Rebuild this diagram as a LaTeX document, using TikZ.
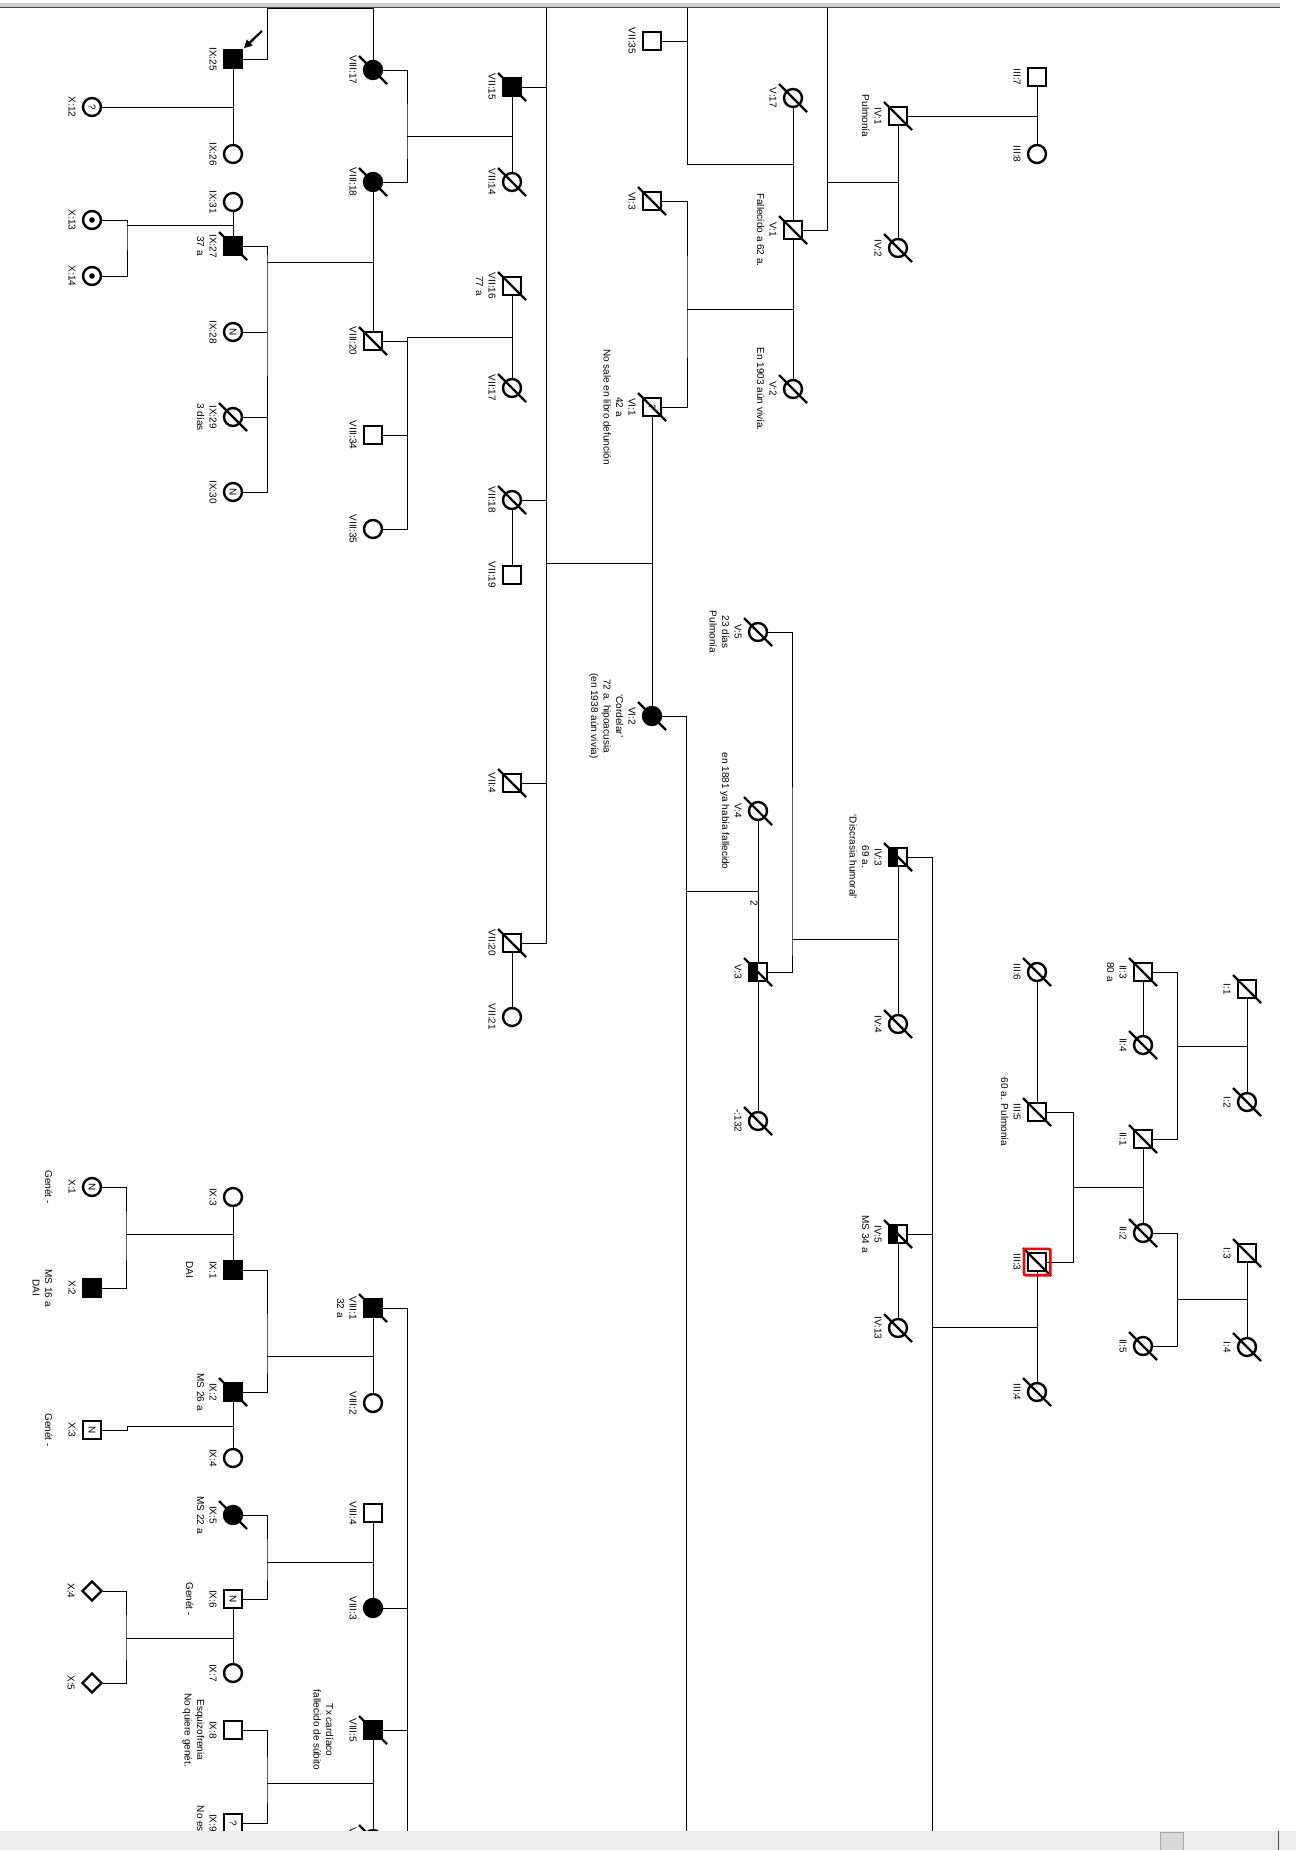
\documentclass[tikz,border=0pt]{standalone}
\usepackage{fontspec}
\setmainfont{Liberation Sans}
\usepackage{graphicx}
\usetikzlibrary{arrows.meta, calc, backgrounds, fit, shapes.geometric}

\newcommand{\tagfont}{\fontsize{10}{12.5}\selectfont}

\begin{document}
\begin{tikzpicture}[
    x=1pt, y=-1pt,
    label distance=0pt,
    male/.style={draw, line width=2.4pt, minimum size=18pt, inner sep=0pt, fill=white, font=\tagfont},
    female/.style={male, circle},
    sexunk/.style={male, diamond, minimum size=20pt},
    affected/.style={fill=black},
    carrier/.style={path picture={\fill[black] (path picture bounding box.center) circle (2.8pt);}},
    halfaff/.style={path picture={\fill[black] (path picture bounding box.south west) rectangle (path picture bounding box.north);}},
    tag/.style={xshift=-6pt, rotate=-90, anchor=north, font=\tagfont, align=center, inner sep=0pt},
    rel/.style={line width=1.2pt},
    dslash/.style={line width=2.4pt},
    probbox/.style={draw=red, line width=2.6pt, rounded corners=2pt, inner sep=3pt},
    probarrow/.style={line width=2.2pt, -{Triangle[length=8pt, width=8pt]}, shorten >=1pt}
]

\useasboundingbox (0,0) rectangle (1296,1850);

% --- Generation I ---
\node[male, label={[tag]west:{I:1}}] (i1) at (1247,989) {};
\node[female, label={[tag]west:{I:2}}] (i2) at (1247,1102) {};
\node[male, label={[tag]west:{I:3}}] (i3) at (1247,1253) {};
\node[female, label={[tag]west:{I:4}}] (i4) at (1247,1347) {};

% --- Generation II ---
\node[male, label={[tag]west:{II:3\\80 a}}] (ii3) at (1143,972) {};
\node[female, label={[tag]west:{II:4}}] (ii4) at (1143,1045) {};
\node[male, label={[tag]west:{II:1}}] (ii1) at (1143,1139) {};
\node[female, label={[tag]west:{II:2}}] (ii2) at (1143,1233) {};
\node[female, label={[tag]west:{II:5}}] (ii5) at (1143,1346) {};

% --- Generation III ---
\node[male, label={[tag]west:{III:7}}] (iii7) at (1037,77) {};
\node[female, label={[tag]west:{III:8}}] (iii8) at (1037,154) {};
\node[female, label={[tag]west:{III:6}}] (iii6) at (1037,972) {};
\node[male, label={[tag]west:{III:5\\60 a. Pulmonía}}] (iii5) at (1037,1112) {};
\node[male, label={[tag]west:{III:3}}] (iii3) at (1037,1262) {};
\node[female, label={[tag]west:{III:4}}] (iii4) at (1037,1392) {};

% --- Generation IV ---
\node[male, label={[tag]west:{IV:1\\Pulmonía}}] (iv1) at (898,116) {};
\node[female, label={[tag]west:{IV:2}}] (iv2) at (898,248) {};
\node[male, halfaff, label={[tag]west:{IV:3\\69 a.\\`Discrasia humoral'}}] (iv3) at (898,857) {};
\node[female, label={[tag]west:{IV:4}}] (iv4) at (898,1024) {};
\node[male, halfaff, label={[tag]west:{IV:5\\MS 34 a}}] (iv5) at (898,1234) {};
\node[female, label={[tag]west:{IV:13}}] (iv13) at (898,1328) {};

% --- Generation V ---
\node[female, label={[tag]west:{V:17}}] (v17) at (793,98) {};
\node[male, label={[tag]west:{V:1\\Fallecido a 62 a.}}] (v1) at (793,230) {};
\node[female, label={[tag]west:{V:2\\En 1903 aún vivía.}}] (v2) at (793,389) {};
\node[female, label={[tag]west:{V:5\\23 días\\Pulmonía}}] (v5) at (758,632) {};
\node[female, label={[tag]west:{V:4\\en 1881 ya había fallecido}}] (v4) at (758,811) {};
\node[male, halfaff, label={[tag]west:{V:3}}] (v3) at (758,972) {};
\node[female, label={[tag]west:{-:132}}] (v132) at (758,1121) {};

% --- Generation VI ---
\node[male, label={[tag]west:{VII:35}}] (vii35) at (652,41) {};
\node[male, label={[tag]west:{VI:3}}] (vi3) at (652,201) {};
\node[male, label={[tag]west:{VI:1\\42 a\\No sale en libro defunción}}] (vi1) at (652,407) {\rotatebox{-90}{?}};
\node[female, affected, label={[tag]west:{VI:2\\`Cordelar'\\72 a. hipoacusia\\(en 1938 aún vivía)}}] (vi2) at (652,716) {};

% --- Generation VII ---
\node[male, affected, label={[tag]west:{VII:15}}] (vii15) at (512,87) {};
\node[female, label={[tag]west:{VII:14}}] (vii14) at (512,182) {};
\node[male, label={[tag]west:{VII:16\\77 a}}] (vii16) at (512,286) {};
\node[female, label={[tag]west:{VII:17}}] (vii17) at (512,388) {};
\node[female, label={[tag]west:{VII:18}}] (vii18) at (512,500) {};
\node[male, label={[tag]west:{VII:19}}] (vii19) at (512,575) {};
\node[male, label={[tag]west:{VII:4}}] (vii4) at (512,783) {};
\node[male, label={[tag]west:{VII:20}}] (vii20) at (512,943) {};
\node[female, label={[tag]west:{VII:21}}] (vii21) at (512,1017) {};

% --- Generation VIII ---
\node[female, affected, label={[tag]west:{VIII:17}}] (viii17) at (373,70) {};
\node[female, affected, label={[tag]west:{VIII:18}}] (viii18) at (373,182) {};
\node[male, label={[tag]west:{VIII:20}}] (viii20) at (373,341) {};
\node[male, label={[tag]west:{VIII:34}}] (viii34) at (373,435) {};
\node[female, label={[tag]west:{VIII:35}}] (viii35) at (373,529) {};
\node[male, affected, label={[tag]west:{VIII:1\\32 a}}] (viii1) at (373,1308) {};
\node[female, label={[tag]west:{VIII:2}}] (viii2) at (373,1403) {};
\node[male, label={[tag]west:{VIII:4}}] (viii4) at (373,1513) {};
\node[female, affected, label={[tag]west:{VIII:3}}] (viii3) at (373,1608) {};
\node[male, affected, label={[tag]west:{VIII:5\\[11pt]Tx cardíaco\\fallecido de súbito}}] (viii5) at (373,1730) {};
\node[female, label={[tag]west:{VIII:6}}] (viii6) at (373,1839) {};

% --- Generation IX ---
\node[male, affected, label={[tag]west:{IX:25}}] (ix25) at (233,59) {};
\node[female, label={[tag]west:{IX:26}}] (ix26) at (233,154) {};
\node[female, label={[tag]west:{IX:31}}] (ix31) at (233,202) {};
\node[male, affected, label={[tag]west:{IX:27\\37 a}}] (ix27) at (233,246) {};
\node[female, label={[tag]west:{IX:28}}] (ix28) at (233,332) {\rotatebox{-90}{N}};
\node[female, label={[tag]west:{IX:29\\3 días}}] (ix29) at (233,417) {};
\node[female, label={[tag]west:{IX:30}}] (ix30) at (233,492) {\rotatebox{-90}{N}};
\node[female, label={[tag]west:{IX:3}}] (ix3) at (233,1197) {};
\node[male, affected, label={[tag]west:{IX:1\\[11pt]DAI}}] (ix1) at (233,1270) {};
\node[male, affected, label={[tag]west:{IX:2\\MS 26 a}}] (ix2) at (233,1392) {};
\node[female, label={[tag]west:{IX:4}}] (ix4) at (233,1458) {};
\node[female, affected, label={[tag]west:{IX:5\\MS 22 a}}] (ix5) at (233,1515) {};
\node[male, label={[tag]west:{IX:6\\[11pt]Genét -}}] (ix6) at (233,1599) {\rotatebox{-90}{N}};
\node[female, label={[tag]west:{IX:7}}] (ix7) at (233,1673) {};
\node[male, label={[tag]west:{IX:8\\Esquizofrenia\\No quiere genét.}}] (ix8) at (233,1730) {};
\node[male, label={[tag]west:{IX:9\\No está}}] (ix9) at (233,1823) {\rotatebox{-90}{?}};

% --- Generation X ---
\node[female, label={[tag]west:{X:12}}] (x12) at (92,107) {\rotatebox{-90}{?}};
\node[female, carrier, label={[tag]west:{X:13}}] (x13) at (92,220) {};
\node[female, carrier, label={[tag]west:{X:14}}] (x14) at (92,276) {};
\node[female, label={[tag]west:{X:1\\[11pt]Genét -}}] (x1) at (92,1187) {\rotatebox{-90}{N}};
\node[male, affected, label={[tag]west:{X:2\\[11pt]MS 16 a\\DAI}}] (x2) at (92,1288) {};
\node[male, label={[tag]west:{X:3\\[11pt]Genét -}}] (x3) at (92,1430) {\rotatebox{-90}{N}};
\node[sexunk, label={[tag]west:{X:4}}] (x4) at (92,1591) {};
\node[sexunk, label={[tag]west:{X:5}}] (x5) at (92,1683) {};

% --- Relationship lines ---
\begin{scope}[on background layer, rel]
    \fill[white] (0,0) rectangle (1296,1850);

    % IX:25 up to VIII:17
    \coordinate (top1) at (267,8);
    \coordinate (top2) at (373,8);
    \draw (ix25) -| (top1) -- (top2) -- (viii17);
    \draw (ix25) -- (ix26);
    \draw (x12) -- (x12 -| ix25);

    % IX:31 x IX:27
    \draw (ix31) -- (ix27);
    \coordinate (sib1) at (127,225);
    \draw (x13) -| (sib1) |- (x14);
    \draw (sib1) -- (sib1 -| ix27);

    % VIII:18 x VIII:20
    \draw (viii18) -- (viii20);
    \coordinate (sib2) at (267,262);
    \draw (ix27) -| (sib2) |- (ix30);
    \draw (ix28) -- (ix28 -| sib2);
    \draw (ix29) -- (ix29 -| sib2);
    \draw (sib2) -- (sib2 -| viii18);

    % VII:15 x VII:14
    \draw (vii15) -- (vii14);
    \coordinate (sib3) at (407,136);
    \draw (viii17) -| (sib3) |- (viii18);
    \draw (sib3) -- (sib3 -| vii15);

    % VII:16 x VII:17
    \draw (vii16) -- (vii17);
    \coordinate (sib4) at (407,337);
    \draw (sib4) -- (sib4 -| vii16);
    \draw (sib4) |- (viii35);
    \draw (viii20) -- (viii20 -| sib4);
    \draw (viii34) -- (viii34 -| sib4);

    % VI:1 x VI:2
    \coordinate (sib5) at (546,8);
    \coordinate (desc5) at (546,563);
    \draw (sib5) |- (vii20);
    \draw (vii15) -- (vii15 -| sib5);
    \draw (vii18) -- (vii18 -| sib5);
    \draw (vii4) -- (vii4 -| sib5);
    \draw (desc5) -- (desc5 -| vi1);
    \draw (vi1) -- (vi2);
    \draw (vii18) -- (vii19);
    \draw (vii20) -- (vii21);

    % V:17 x V:1 x V:2
    \draw (v17) -- (v2);
    \coordinate (sib6) at (687,8);
    \coordinate (desc6) at (687,164);
    \draw (sib6) -- (desc6) -- (desc6 -| v1);
    \draw (vii35) -- (vii35 -| sib6);
    \coordinate (sib7) at (687,309);
    \draw (vi3) -| (sib7) |- (vi1);
    \draw (sib7) -- (sib7 -| v1);

    % IV:1 x IV:2, III:7 x III:8
    \draw (iv1) -- (iv2);
    \coordinate (sib8) at (827,8);
    \coordinate (desc8) at (827,182);
    \draw (v1) -| (sib8);
    \draw (desc8) -- (desc8 -| iv1);
    \draw (iii7) -- (iii8);
    \draw (iv1) -- (iv1 -| iii7);

    % V:4 x V:3
    \draw (v4) -- (v132);
    \coordinate (sib9) at (686,1832);
    \coordinate (desc9) at (686,891);
    \draw (vi2) -| (sib9);
    \draw (desc9) -- (desc9 -| v4);

    % IV:3 x IV:4
    \draw (iv3) -- (iv4);
    \coordinate (sib10) at (792,939);
    \draw (v5) -| (sib10) |- (v3);
    \draw (sib10) -- (sib10 -| iv3);

    % III:3 x III:4
    \coordinate (sib11) at (932,1832);
    \coordinate (desc11) at (932,1327);
    \draw (iv3) -| (sib11);
    \draw (iv5) -- (iv5 -| sib11);
    \draw (desc11) -- (desc11 -| iii3);
    \draw (iv5) -- (iv13);
    \draw (iii3) -- (iii4);

    % II:1 x II:2
    \draw (iii6) -- (iii5);
    \coordinate (sib12) at (1073,1187);
    \draw (iii5) -| (sib12) |- (iii3);
    \draw (sib12) -- (sib12 -| ii1);
    \draw (ii1) -- (ii2);

    % I:1 x I:2
    \draw (ii3) -- (ii4);
    \coordinate (sib13) at (1177,1046);
    \draw (ii3) -| (sib13) |- (ii1);
    \draw (sib13) -- (sib13 -| i1);
    \draw (i1) -- (i2);

    % I:3 x I:4
    \coordinate (sib14) at (1177,1299);
    \draw (ii2) -| (sib14) |- (ii5);
    \draw (sib14) -- (sib14 -| i3);
    \draw (i3) -- (i4);

    % IX:3 x IX:1
    \draw (ix3) -- (ix1);
    \coordinate (sib15) at (126,1234);
    \draw (x1) -| (sib15) |- (x2);
    \draw (sib15) -- (sib15 -| ix1);

    % VIII:1 x VIII:2
    \draw (viii1) -- (viii2);
    \coordinate (sib16) at (267,1356);
    \draw (ix1) -| (sib16) |- (ix2);
    \draw (sib16) -- (sib16 -| viii1);
    \coordinate (sib17) at (407,1832);
    \draw (viii1) -| (sib17);
    \draw (viii3) -- (viii3 -| sib17);
    \draw (viii5) -- (viii5 -| sib17);

    % IX:2 x IX:4
    \draw (ix2) -- (ix4);
    \coordinate (desc18) at (127,1426);
    \draw (desc18 -| ix2) -- (desc18) |- (x3);

    % VIII:4 x VIII:3
    \draw (viii4) -- (viii3);
    \coordinate (sib19) at (267,1562);
    \draw (ix5) -| (sib19) |- (ix6);
    \draw (sib19) -- (sib19 -| viii4);

    % IX:6 x IX:7
    \draw (ix6) -- (ix7);
    \coordinate (sib20) at (126,1638);
    \draw (x4) -| (sib20) |- (x5);
    \draw (sib20) -- (sib20 -| ix6);

    % VIII:5 x VIII:6
    \draw (viii5) -- (viii6);
    \coordinate (sib21) at (267,1783);
    \draw (ix8) -| (sib21) |- (ix9);
    \draw (sib21) -- (sib21 -| viii5);
\end{scope}

% --- Deceased ---
\foreach \p in {ix27, ix29, ix2, ix5, viii17, viii18, viii20, viii1, viii5, viii6,
                vii15, vii14, vii16, vii17, vii18, vii4, vii20, vi3, vi1, vi2,
                v17, v1, v2, v5, v4, v3, v132, iv1, iv2, iv3, iv4, iv5, iv13,
                iii6, iii5, iii3, iii4, ii3, ii4, ii1, ii2, ii5, i1, i2, i3, i4}{
    \draw[dslash] ($(\p)+(-14,-14)$) -- ($(\p)+(14,14)$);
}

% second marriage mark
\node[tag, anchor=center, xshift=12pt] (mar2) at (760,891) {2};

% proband
\coordinate (pb) at (262,31);
\draw[probarrow] (pb) -- (ix25.north east);
\node[probbox, fit=(iii3)] (iii3box) {};

% --- Window frame ---
\fill[gray!40] (0,3) rectangle (1280,6.5);
\draw[black!70, line width=1pt] (0,7) -- (1280,7);
\fill[gray!15] (0,1831) rectangle (1296,1850);
\fill[gray!30, draw=gray!70] (1160,1832) rectangle (1183,1850);
\draw[black!70, line width=1pt] (1278,1831) -- (1278,1850);

\end{tikzpicture}
\end{document}
